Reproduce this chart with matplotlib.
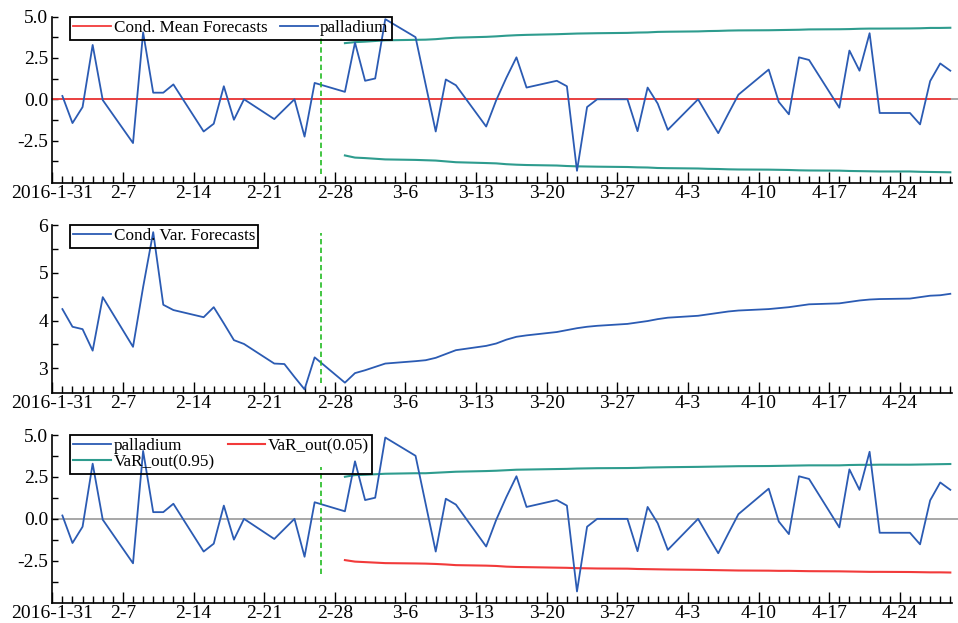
import numpy as np
import pandas as pd
import matplotlib
matplotlib.use('Agg')
import matplotlib.pyplot as plt
import matplotlib.dates as mdates
from matplotlib.ticker import FixedLocator, FuncFormatter

plt.rcParams['font.family'] = ['Liberation Serif', 'DejaVu Serif']

# ---------------- data ----------------
axis_start = '2016-01-31'
start_date = '2016-02-01'
end_date = '2016-04-29'
forecast_start = '2016-02-29'
split_time = '2016-02-26 14:00'

palladium = [
    0.20, -1.44, -0.47, 3.29, -0.05,
    -2.65, 4.05, 0.40, 0.40, 0.90,
    -1.95, -1.48, 0.79, -1.24, 0.00,
    -1.20, -0.60, 0.00, -2.26, 0.99,
    0.45, 3.43, 1.12, 1.26, 4.85,
    3.76, 0.90, -1.95, 1.20, 0.85,
    -1.65, -0.05, 1.30, 2.54, 0.71,
    1.12, 0.79, -4.33, -0.47, 0.00,
    0.00, -1.93, 0.71, -0.26, -1.85,
    0.00, -1.04, -2.05, -0.87, 0.28,
    1.80, -0.16, -0.91, 2.54, 2.38,
    -0.51, 2.95, 1.73, 4.00, -0.83,
    -0.83, -1.52, 1.10, 2.17, 1.73,
]

cond_var_in = [
    4.24, 3.87, 3.82, 3.37, 4.49,
    3.45, 4.70, 5.85, 4.33, 4.22,
    4.07, 4.28, 3.94, 3.59, 3.51,
    3.10, 3.09, 2.82, 2.56, 3.23,
]

cond_var_fc = [
    2.70, 2.90, 2.96, 3.03, 3.10,
    3.15, 3.17, 3.22, 3.30, 3.38,
    3.47, 3.52, 3.60, 3.66, 3.69,
    3.76, 3.80, 3.84, 3.87, 3.89,
    3.93, 3.96, 3.99, 4.03, 4.06,
    4.10, 4.13, 4.16, 4.19, 4.21,
    4.24, 4.26, 4.28, 4.31, 4.34,
    4.36, 4.39, 4.42, 4.44, 4.45,
    4.46, 4.49, 4.52, 4.53, 4.56,
]

band_upper = [
    3.40, 3.46, 3.49, 3.53, 3.57,
    3.60, 3.61, 3.64, 3.69, 3.73,
    3.78, 3.81, 3.85, 3.88, 3.90,
    3.94, 3.96, 3.98, 3.99, 4.00,
    4.02, 4.04, 4.05, 4.08, 4.09,
    4.11, 4.13, 4.14, 4.16, 4.17,
    4.18, 4.19, 4.20, 4.21, 4.23,
    4.24, 4.25, 4.27, 4.28, 4.28,
    4.29, 4.30, 4.32, 4.32, 4.33,
]

band_lower = [
    -3.40, -3.53, -3.56, -3.60, -3.64,
    -3.67, -3.69, -3.71, -3.76, -3.81,
    -3.86, -3.88, -3.93, -3.96, -3.98,
    -4.01, -4.04, -4.06, -4.07, -4.08,
    -4.10, -4.12, -4.13, -4.16, -4.17,
    -4.19, -4.21, -4.22, -4.24, -4.25,
    -4.26, -4.27, -4.28, -4.30, -4.31,
    -4.32, -4.34, -4.35, -4.36, -4.37,
    -4.37, -4.39, -4.40, -4.41, -4.42,
]

var_out_95 = [
    2.51, 2.61, 2.63, 2.66, 2.69,
    2.72, 2.72, 2.75, 2.78, 2.81,
    2.85, 2.87, 2.90, 2.93, 2.94,
    2.97, 2.98, 3.00, 3.01, 3.02,
    3.03, 3.04, 3.06, 3.07, 3.08,
    3.10, 3.11, 3.12, 3.13, 3.14,
    3.15, 3.16, 3.17, 3.18, 3.19,
    3.19, 3.21, 3.22, 3.22, 3.23,
    3.23, 3.24, 3.25, 3.26, 3.27,
]

var_out_05 = [
    -2.46, -2.55, -2.58, -2.61, -2.64,
    -2.66, -2.67, -2.69, -2.72, -2.76,
    -2.79, -2.81, -2.85, -2.87, -2.88,
    -2.91, -2.92, -2.94, -2.95, -2.96,
    -2.97, -2.99, -3.00, -3.01, -3.02,
    -3.04, -3.05, -3.06, -3.07, -3.08,
    -3.09, -3.10, -3.10, -3.11, -3.12,
    -3.13, -3.14, -3.15, -3.16, -3.16,
    -3.17, -3.18, -3.19, -3.19, -3.20,
]

cond_mean = 0.0

split_spans = [(-4.5, 3.8), (2.7, 5.83), (-3.3, 3.1)]

# ---------------- styles ----------------
C_BLUE = '#2B5BB3'
C_RED = '#F23A3A'
C_TEAL = '#2E9C8E'
C_GREEN = '#22BB22'
C_GRAY = '#A0A0A0'

dates = pd.bdate_range(start_date, end_date)
fc_mask = dates >= pd.Timestamp(forecast_start)
fc_dates = dates[fc_mask]
var_all = list(cond_var_in) + list(cond_var_fc)

W, H = 958, 623
fig = plt.figure(figsize=(W / 100, H / 100), dpi=100)

left = 52.3 / W
width = (952.0 - 52.3) / W
panels_px = [(16.7, 182.7), (225.0, 392.7), (435.0, 602.7)]
axes = []
for top, bot in panels_px:
    ax = fig.add_axes([left, 1 - bot / H, width, (bot - top) / H])
    axes.append(ax)

x0 = mdates.date2num(pd.Timestamp(axis_start))
x1 = mdates.date2num(pd.Timestamp(end_date) + pd.Timedelta(hours=4))
xend_frac = (mdates.date2num(pd.Timestamp(end_date)) - x0) / (x1 - x0)


def fmt_date(x, pos):
    d = mdates.num2date(x)
    if abs(x - x0) < 0.5:
        return f'{d.year}-{d.month}-{d.day}'
    return f'{d.month}-{d.day}'


def style_axes(ax, ylim, major, minor, yfmt):
    ax.set_xlim(x0, x1)
    ax.set_ylim(*ylim)
    for s in ['top', 'right']:
        ax.spines[s].set_visible(False)
    for s in ['left', 'bottom']:
        ax.spines[s].set_linewidth(1.2)
    ax.xaxis.set_major_locator(mdates.WeekdayLocator(byweekday=mdates.SU))
    ax.xaxis.set_minor_locator(mdates.DayLocator())
    ax.xaxis.set_major_formatter(FuncFormatter(fmt_date))
    ax.yaxis.set_major_locator(FixedLocator(major))
    ax.yaxis.set_minor_locator(FixedLocator(minor))
    ax.yaxis.set_major_formatter(FuncFormatter(yfmt))
    ax.tick_params(axis='x', which='major', direction='in', length=8, width=1.0,
                   labelsize=14, pad=2)
    ax.tick_params(axis='x', which='minor', direction='in', length=5, width=1.0)
    ax.tick_params(axis='y', which='both', direction='in', length=4.5, width=1.0,
                   labelsize=14, pad=3)


leg_kw = dict(loc='upper left', bbox_to_anchor=(0.0197, 1.0), borderaxespad=0,
              fontsize=12.3, fancybox=False, facecolor='none', framealpha=1,
              edgecolor='black', handlelength=2.2, handletextpad=0.15,
              columnspacing=0.75, borderpad=0.2)


def finish_legend(lg):
    fr = lg.get_frame()
    fr.set_linewidth(1.3)
    fr.set_edgecolor('black')
    fr.set_facecolor('none')


# Panel 1
ax = axes[0]
style_axes(ax, (-5.05, 5.0), [-2.5, 0, 2.5, 5.0], [-3.75, -1.25, 1.25, 3.75],
           lambda v, p: f'{v:.1f}')
ax.axhline(0, color=C_GRAY, lw=1.3, xmax=1.007, clip_on=False, zorder=1)
l_mean = ax.axhline(cond_mean, color=C_RED, lw=1.3, xmax=xend_frac, zorder=2,
                    label='Cond. Mean Forecasts')
ax.plot(fc_dates, band_upper, color=C_TEAL, lw=1.5, zorder=2)
ax.plot(fc_dates, band_lower, color=C_TEAL, lw=1.5, zorder=2)
l_pal, = ax.plot(dates, palladium, color=C_BLUE, lw=1.3, zorder=3, label='palladium')
ax.vlines(pd.Timestamp(split_time), *split_spans[0], colors=C_GREEN, lw=1.2,
          linestyles=(0, (3.2, 2.0)), zorder=4)
finish_legend(ax.legend(handles=[l_mean, l_pal], ncol=2, **leg_kw))

# Panel 2
ax = axes[1]
style_axes(ax, (2.49, 6.0), [3, 4, 5, 6], [3.5, 4.5, 5.5], lambda v, p: f'{v:.0f}')
l_var, = ax.plot(dates, var_all, color=C_BLUE, lw=1.3, zorder=3,
                 label='Cond. Var. Forecasts')
ax.vlines(pd.Timestamp(split_time), *split_spans[1], colors=C_GREEN, lw=1.2,
          linestyles=(0, (3.2, 2.0)), zorder=4)
finish_legend(ax.legend(handles=[l_var], **leg_kw))

# Panel 3
ax = axes[2]
style_axes(ax, (-5.0, 5.0), [-2.5, 0, 2.5, 5.0], [-3.75, -1.25, 1.25, 3.75],
           lambda v, p: f'{v:.1f}')
ax.axhline(0, color=C_GRAY, lw=1.3, xmax=1.007, clip_on=False, zorder=1)
l_p3, = ax.plot(dates, palladium, color=C_BLUE, lw=1.3, zorder=3, label='palladium')
l_95, = ax.plot(fc_dates, var_out_95, color=C_TEAL, lw=1.5, zorder=2,
                label='VaR_out(0.95)')
l_05, = ax.plot(fc_dates, var_out_05, color=C_RED, lw=1.5, zorder=2,
                label='VaR_out(0.05)')
ax.vlines(pd.Timestamp(split_time), *split_spans[2], colors=C_GREEN, lw=1.2,
          linestyles=(0, (3.2, 2.0)), zorder=4)
finish_legend(ax.legend(handles=[l_p3, l_95, l_05], ncol=2, labelspacing=0.0,
                        **leg_kw))

fig.savefig('out.png', dpi=100)
